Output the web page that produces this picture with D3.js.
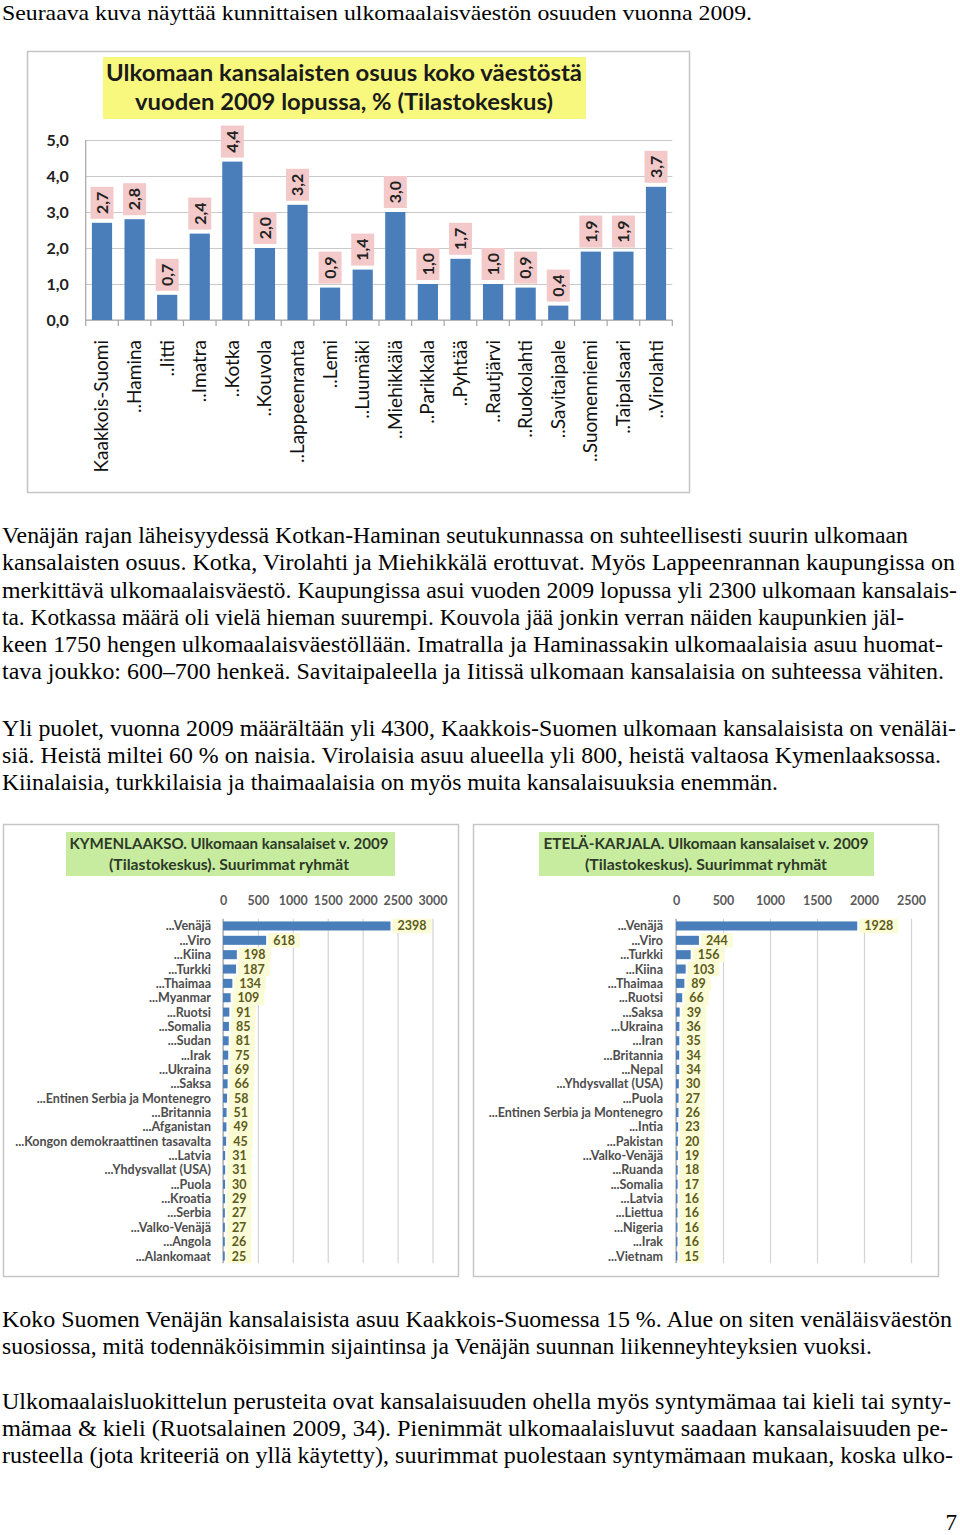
<!DOCTYPE html>
<html><head><meta charset="utf-8">
<script src="https://cdn.jsdelivr.net/npm/d3@7"></script>
<style>html,body{margin:0;padding:0;background:#fff;} svg{display:block;}</style>
</head><body>
<svg id="page" width="960" height="1535"></svg>
<script>
// ---------------- DATA ----------------
const municipalities = ["Kaakkois-Suomi","..Hamina","..Iitti","..Imatra","..Kotka","..Kouvola","..Lappeenranta","..Lemi","..Luumäki","..Miehikkälä","..Parikkala","..Pyhtää","..Rautjärvi","..Ruokolahti","..Savitaipale","..Suomenniemi","..Taipalsaari","..Virolahti"];
const foreignShare = [2.7,2.8,0.7,2.4,4.4,2.0,3.2,0.9,1.4,3.0,1.0,1.7,1.0,0.9,0.4,1.9,1.9,3.7];
const shareTicks = [0,1,2,3,4,5];
const shareTitle = ["Ulkomaan kansalaisten osuus koko väestöstä","vuoden 2009 lopussa, % (Tilastokeskus)"];

const kymCountries = ["...Venäjä","...Viro","...Kiina","...Turkki","...Thaimaa","...Myanmar","...Ruotsi","...Somalia","...Sudan","...Irak","...Ukraina","...Saksa","...Entinen Serbia ja Montenegro","...Britannia","...Afganistan","...Kongon demokraattinen tasavalta","...Latvia","...Yhdysvallat (USA)","...Puola","...Kroatia","...Serbia","...Valko-Venäjä","...Angola","...Alankomaat"];
const kymValues = [2398,618,198,187,134,109,91,85,81,75,69,66,58,51,49,45,31,31,30,29,27,27,26,25];
const kymTicks = [0,500,1000,1500,2000,2500,3000];
const kymTitle = ["KYMENLAAKSO. Ulkomaan kansalaiset v. 2009","(Tilastokeskus). Suurimmat ryhmät"];

const ekCountries = ["...Venäjä","...Viro","...Turkki","...Kiina","...Thaimaa","...Ruotsi","...Saksa","...Ukraina","...Iran","...Britannia","...Nepal","...Yhdysvallat (USA)","...Puola","...Entinen Serbia ja Montenegro","...Intia","...Pakistan","...Valko-Venäjä","...Ruanda","...Somalia","...Latvia","...Liettua","...Nigeria","...Irak","...Vietnam"];
const ekValues = [1928,244,156,103,89,66,39,36,35,34,34,30,27,26,23,20,19,18,17,16,16,16,16,15];
const ekTicks = [0,500,1000,1500,2000,2500];
const ekTitle = ["ETELÄ-KARJALA. Ulkomaan kansalaiset v. 2009","(Tilastokeskus). Suurimmat ryhmät"];

const para1 = ["Seuraava kuva näyttää kunnittaisen ulkomaalaisväestön osuuden vuonna 2009."];
const para2 = [
 "Venäjän rajan läheisyydessä Kotkan-Haminan seutukunnassa on suhteellisesti suurin ulkomaan",
 "kansalaisten osuus. Kotka, Virolahti ja Miehikkälä erottuvat. Myös Lappeenrannan kaupungissa on",
 "merkittävä ulkomaalaisväestö. Kaupungissa asui vuoden 2009 lopussa yli 2300 ulkomaan kansalais-",
 "ta. Kotkassa määrä oli vielä hieman suurempi. Kouvola jää jonkin verran näiden kaupunkien jäl-",
 "keen 1750 hengen ulkomaalaisväestöllään. Imatralla ja Haminassakin ulkomaalaisia asuu huomat-",
 "tava joukko: 600–700 henkeä. Savitaipaleella ja Iitissä ulkomaan kansalaisia on suhteessa vähiten."];
const para3 = [
 "Yli puolet, vuonna 2009 määrältään yli 4300, Kaakkois-Suomen ulkomaan kansalaisista on venäläi-",
 "siä. Heistä miltei 60 % on naisia. Virolaisia asuu alueella yli 800, heistä valtaosa Kymenlaaksossa.",
 "Kiinalaisia, turkkilaisia ja thaimaalaisia on myös muita kansalaisuuksia enemmän."];
const para4 = [
 "Koko Suomen Venäjän kansalaisista asuu Kaakkois-Suomessa 15 %. Alue on siten venäläisväestön",
 "suosiossa, mitä todennäköisimmin sijaintinsa ja Venäjän suunnan liikenneyhteyksien vuoksi."];
const para5 = [
 "Ulkomaalaisluokittelun perusteita ovat kansalaisuuden ohella myös syntymämaa tai kieli tai synty-",
 "mämaa & kieli (Ruotsalainen 2009, 34). Pienimmät ulkomaalaisluvut saadaan kansalaisuuden pe-",
 "rusteella (jota kriteeriä on yllä käytetty), suurimmat puolestaan syntymämaan mukaan, koska ulko-"];
const pageNumber = "7";

// ---------------- LAYOUT ----------------
const svg = d3.select("#page");
const serif = "'Liberation Serif', 'Times New Roman', Times, serif";
const sans = "Lato";

function paragraph(lines, y0, lh, ends, fs) {
  lines.forEach((t, i) => {
    svg.append("text").attr("x", 2).attr("y", y0 + i * lh)
      .style("font-family", serif).attr("font-size", fs || 23).attr("fill", "#000")
      .attr("textLength", ends[i] - 2).attr("lengthAdjust", "spacingAndGlyphs")
      .text(t);
  });
}
paragraph(para1, 19.5, 27, [752], 22);
paragraph(para2, 543.3, 27.15, [908, 955, 957, 904, 943, 944]);
paragraph(para3, 736, 27.2, [956, 941, 778]);
paragraph(para4, 1326.5, 27, [952, 872]);
paragraph(para5, 1408.5, 27, [951, 948, 953]);
svg.append("text").attr("x", 957).attr("y", 1530).attr("text-anchor", "end")
  .style("font-family", serif).attr("font-size", 23).text(pageNumber);

// ---------------- CHART 1 ----------------
(function () {
  const g = svg.append("g");
  g.append("rect").attr("x", 27.5).attr("y", 51.5).attr("width", 662).attr("height", 441)
    .attr("fill", "#fff").attr("stroke", "#c4c4c4").attr("stroke-width", 1.5);
  g.append("rect").attr("x", 103).attr("y", 57).attr("width", 483).attr("height", 62)
    .attr("fill", "#f8f87e");
  const tw = [476, 418];
  shareTitle.forEach((t, i) => {
    g.append("text").attr("x", 344).attr("y", 81 + i * 29).attr("text-anchor", "middle")
      .style("font-family", sans).attr("font-weight", "bold").attr("font-size", 22)
      .attr("fill", "#1b1b1b").attr("textLength", tw[i]).attr("lengthAdjust", "spacingAndGlyphs").text(t);
  });

  const x = d3.scaleBand().domain(municipalities).range([85.7, 672.3]).paddingInner(0.38).paddingOuter(0.19);
  const y = d3.scaleLinear().domain([0, 5]).range([320, 140]);
  const [x0, x1] = x.range();

  g.append("g").attr("transform", `translate(${x0},0)`)
    .call(d3.axisLeft(y).tickValues(shareTicks).tickSize(-(x1 - x0)).tickFormat(""))
    .call(s => s.select(".domain").remove())
    .selectAll("line").attr("stroke", "#c9c9c9").attr("stroke-width", 1.2);
  g.append("g").attr("transform", `translate(${x0},0)`)
    .call(d3.axisLeft(y).tickValues(shareTicks).tickSize(0).tickPadding(17)
      .tickFormat(d => d3.format(".1f")(d).replace(".", ",")))
    .call(s => s.select(".domain").remove())
    .selectAll("text").style("font-family", sans).attr("font-weight", "bold")
    .attr("font-size", 16).attr("fill", "#222");
  g.append("line").attr("x1", x0).attr("x2", x0).attr("y1", y(5)).attr("y2", y(0))
    .attr("stroke", "#a6a6a6").attr("stroke-width", 1.2);
  g.append("line").attr("x1", x0).attr("x2", x1).attr("y1", y(0)).attr("y2", y(0))
    .attr("stroke", "#a6a6a6").attr("stroke-width", 1.2);
  const bounds = municipalities.map(d => x(d) - x.step() * x.paddingInner() / 2).concat([x1]);
  g.selectAll(".xt").data(bounds).join("line").attr("x1", d => d).attr("x2", d => d)
    .attr("y1", y(0)).attr("y2", y(0) + 6).attr("stroke", "#a6a6a6").attr("stroke-width", 1.2);

  const data = municipalities.map((m, i) => ({ m, v: foreignShare[i] }));
  g.selectAll(".bar").data(data).join("rect")
    .attr("x", d => x(d.m)).attr("width", x.bandwidth())
    .attr("y", d => y(d.v)).attr("height", d => y(0) - y(d.v))
    .attr("fill", "#4a7ebb");

  const lab = g.selectAll(".vl").data(data).join("g")
    .attr("transform", d => `translate(${x(d.m) + x.bandwidth() / 2},${y(d.v) - 4})`);
  lab.append("rect").attr("x", -11.5).attr("y", -32).attr("width", 23).attr("height", 32)
    .attr("fill", "#f3c9c9");
  lab.append("text").attr("transform", "translate(0,-16) rotate(-90)").attr("dy", "0.36em")
    .attr("text-anchor", "middle").style("font-family", sans).attr("font-weight", "bold")
    .attr("font-size", 16).attr("fill", "#222")
    .text(d => d3.format(".1f")(d.v).replace(".", ","));

  g.selectAll(".cl").data(municipalities).join("text")
    .attr("transform", d => `translate(${x(d) + x.bandwidth() / 2 + 6.5},340) rotate(-90)`)
    .attr("text-anchor", "end").style("font-family", sans).attr("font-size", 19)
    .attr("fill", "#111").text(d => d);
})();

// ---------------- CHARTS 2 & 3 ----------------
function hbar(o) {
  const g = svg.append("g");
  g.append("rect").attr("x", o.frame[0] + 0.5).attr("y", 824.5).attr("width", o.frame[1] - o.frame[0])
    .attr("height", 452).attr("fill", "#fff").attr("stroke", "#c6c6c6").attr("stroke-width", 1.5);
  g.append("rect").attr("x", o.tbox[0]).attr("y", 832).attr("width", o.tbox[1] - o.tbox[0])
    .attr("height", 44).attr("fill", "#c7ec9f");
  o.title.forEach((t, i) => {
    g.append("text").attr("x", o.tcx).attr("y", 849 + i * 21).attr("text-anchor", "middle")
      .style("font-family", sans).attr("font-weight", "bold").attr("font-size", 15.5)
      .attr("fill", "#2e3a28").attr("textLength", o.tw[i]).attr("lengthAdjust", "spacingAndGlyphs").text(t);
  });
  const x = d3.scaleLinear().domain([0, o.ticks[o.ticks.length - 1]]).range(o.xr);
  const y = d3.scaleBand().domain(o.cats).range([918.8, 1263.2]).paddingInner(0.37).paddingOuter(0.185);
  const [yt, yb] = y.range();
  g.append("g").attr("transform", `translate(0,${yb})`)
    .call(d3.axisTop(x).tickValues(o.ticks).tickSize(yb - yt).tickFormat(""))
    .call(s => s.select(".domain").remove())
    .selectAll("line").attr("stroke", "#d4d4d4").attr("stroke-width", 1.2);
  g.append("g").attr("transform", `translate(0,${yt})`)
    .call(d3.axisTop(x).tickValues(o.ticks).tickSize(0).tickPadding(14).tickFormat(d3.format("d")))
    .call(s => s.select(".domain").remove())
    .selectAll("text").style("font-family", sans).attr("font-weight", "bold")
    .attr("font-size", 12.5).attr("fill", "#5a5a5a");
  g.append("line").attr("x1", x(0)).attr("x2", x(0)).attr("y1", yt).attr("y2", yb)
    .attr("stroke", "#9a9a9a").attr("stroke-width", 1);
  const data = o.cats.map((c, i) => ({ c, v: o.vals[i] }));
  const vl = g.selectAll(".vl").data(data).join("g");
  const bg = vl.append("rect");
  const tx = vl.append("text").attr("x", d => x(d.v) + 7).attr("y", d => y(d.c) + y.bandwidth() / 2)
    .attr("dy", "0.36em").style("font-family", sans).attr("font-weight", "bold").attr("font-size", 12.5)
    .attr("fill", "#5c5c1c").text(d => d.v);
  tx.each(function (d) { d.w = this.getComputedTextLength(); });
  bg.attr("x", d => x(d.v) + 2).attr("y", d => y(d.c) + y.bandwidth() / 2 - y.step() / 2)
    .attr("width", d => d.w + 10).attr("height", y.step()).attr("fill", "#fbfbd6");
  g.selectAll(".bar").data(data).join("rect")
    .attr("x", x(0)).attr("y", d => y(d.c)).attr("height", y.bandwidth())
    .attr("width", d => x(d.v) - x(0)).attr("fill", "#4a7ebb");
  g.selectAll(".cl").data(o.cats).join("text")
    .attr("x", o.labX).attr("y", d => y(d) + y.bandwidth() / 2).attr("dy", "0.36em")
    .attr("text-anchor", "end").style("font-family", sans).attr("font-weight", "bold")
    .attr("font-size", 12.5).attr("fill", "#4d4d4d").text(d => d);
}
hbar({ cats: kymCountries, vals: kymValues, ticks: kymTicks, title: kymTitle,
  frame: [3, 458], tbox: [66, 395], tcx: 229, tw: [319, 240], xr: [223, 432.5], labX: 211 });
hbar({ cats: ekCountries, vals: ekValues, ticks: ekTicks, title: ekTitle,
  frame: [473, 938], tbox: [539, 874], tcx: 706, tw: [325, 242], xr: [676, 911], labX: 663 });
</script>
</body></html>
